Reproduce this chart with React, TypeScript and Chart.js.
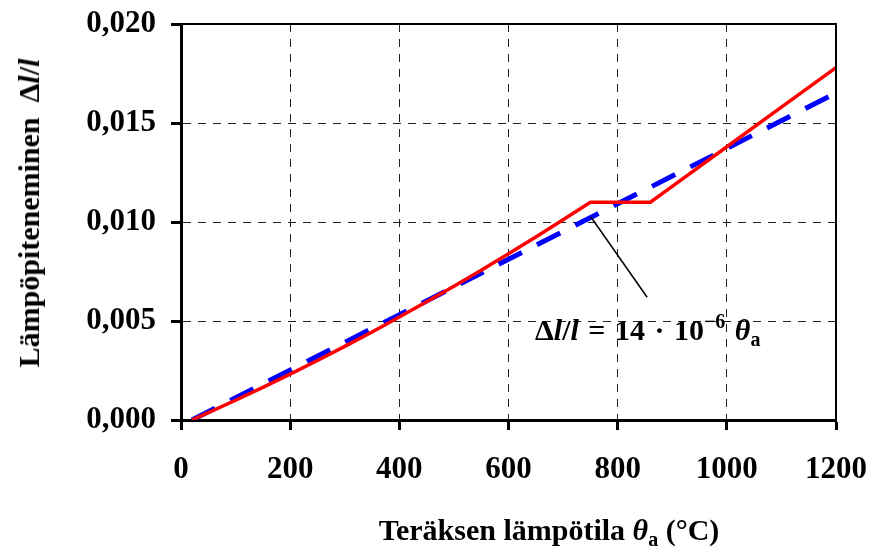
import React, { useEffect, useRef } from "react";
import { Chart, registerables } from "chart.js";

Chart.register(...registerables);

// Thermal elongation of steel: temperature (°C) and relative elongation Δl/l
const thetaSteel = [20, 50, 100, 150, 200, 250, 300, 350, 400, 450, 500, 550, 600, 650, 700, 750, 860, 900, 1000, 1100, 1200];
const strainSteel = [0.0, 0.000368, 0.000998, 0.001648, 0.002318, 0.003008, 0.003718, 0.004448, 0.005198, 0.005968, 0.006758, 0.007568, 0.008398, 0.009248, 0.010118, 0.011, 0.011, 0.0118, 0.0138, 0.0158, 0.0178];

// Simplified linear relation Δl/l = 14·10⁻⁶ θa
const thetaLinear = [20, 1200];
const strainLinear = [0.0, 0.01652];

// Axis tick labels
const xTickLabels = ["0", "200", "400", "600", "800", "1000", "1200"];
const yTickLabels = ["0,000", "0,005", "0,010", "0,015", "0,020"];

// Leader line from the linear curve to its formula label (data units)
const leaderFrom = [751, 0.01025];
const leaderTo = [854, 0.0062];

const FONT = "'Liberation Serif', 'Times New Roman', serif";

const framePlugin = {
  id: "frameAndLeader",
  afterDraw(chart: any) {
    const { ctx, chartArea, scales } = chart;
    ctx.save();
    // thin top and right frame lines
    ctx.strokeStyle = "#000";
    ctx.lineWidth = 2;
    ctx.setLineDash([]);
    ctx.beginPath();
    ctx.moveTo(chartArea.left, chartArea.top);
    ctx.lineTo(chartArea.right, chartArea.top);
    ctx.lineTo(chartArea.right, chartArea.bottom);
    ctx.stroke();
    // leader line for the formula label
    ctx.lineWidth = 1.5;
    ctx.beginPath();
    ctx.moveTo(scales.x.getPixelForValue(leaderFrom[0]), scales.y.getPixelForValue(leaderFrom[1]));
    ctx.lineTo(scales.x.getPixelForValue(leaderTo[0]), scales.y.getPixelForValue(leaderTo[1]));
    ctx.stroke();
    ctx.restore();
  },
};

// keep tick-label overflow from shrinking the plot area
const noOverflow = (s: any) => {
  s.paddingTop = 0;
  s.paddingBottom = 0;
  s.paddingLeft = 0;
  s.paddingRight = 0;
};

export default function App() {
  const canvasRef = useRef<HTMLCanvasElement | null>(null);

  useEffect(() => {
    document.body.style.margin = "0";
    const canvas = canvasRef.current;
    if (!canvas) return;
    const tickFont = { family: FONT, size: 31, weight: "bold" as const };
    const chart = new Chart(canvas, {
      type: "line",
      data: {
        datasets: [
          {
            label: "Eurocode",
            data: thetaSteel.map((t, i) => ({ x: t, y: strainSteel[i] })),
            borderColor: "#ff0000",
            borderWidth: 3.5,
            pointRadius: 0,
            tension: 0,
            fill: false,
          },
          {
            label: "Linear",
            data: thetaLinear.map((t, i) => ({ x: t, y: strainLinear[i] })),
            borderColor: "#0000ff",
            borderWidth: 5,
            borderDash: [26, 17],
            pointRadius: 0,
            tension: 0,
            fill: false,
          },
        ],
      },
      options: {
        responsive: false,
        animation: false,
        devicePixelRatio: 1,
        layout: { padding: { left: 0, top: 24, right: 35, bottom: 0 } },
        plugins: { legend: { display: false }, tooltip: { enabled: false } },
        scales: {
          x: {
            type: "linear",
            min: 0,
            max: 1200,
            afterFit: (s: any) => {
              s.height = 129;
              noOverflow(s);
            },
            ticks: {
              stepSize: 200,
              autoSkip: false,
              maxRotation: 0,
              padding: 21,
              color: "#000",
              font: tickFont,
              callback: (_v: any, i: number) => xTickLabels[i],
            },
            grid: {
              color: "#222",
              lineWidth: 1,
              tickLength: 10,
              tickColor: "#000",
              tickWidth: 3,
              tickBorderDash: [],
            } as any,
            border: { display: true, color: "#000", width: 3, dash: [8, 7] },
          },
          y: {
            type: "linear",
            min: 0,
            max: 0.02,
            afterFit: (s: any) => {
              s.width = 181;
              noOverflow(s);
            },
            ticks: {
              stepSize: 0.005,
              autoSkip: false,
              padding: 15,
              color: "#000",
              font: tickFont,
              callback: (_v: any, i: number) => yTickLabels[i],
            },
            grid: {
              color: "#222",
              lineWidth: 1,
              tickLength: 10,
              tickColor: "#000",
              tickWidth: 3,
              tickBorderDash: [],
            } as any,
            border: { display: true, color: "#000", width: 3, dash: [8, 7] },
          },
        },
      },
      plugins: [framePlugin],
    });
    return () => chart.destroy();
  }, []);

  const textBase: React.CSSProperties = {
    position: "absolute",
    fontFamily: FONT,
    fontWeight: "bold",
    fontSize: 30,
    lineHeight: 1,
    whiteSpace: "nowrap",
    color: "#000",
  };

  return (
    <div style={{ position: "relative", width: 871, height: 549, background: "#fff" }}>
      <canvas ref={canvasRef} width={871} height={549} style={{ display: "block" }} />
      {/* y-axis title */}
      <div
        style={{
          ...textBase,
          left: 29,
          top: 213,
          transform: "translate(-50%, -50%) rotate(-90deg)",
        }}
      >
        Lämpöpiteneminen&nbsp;&nbsp;Δ<i>l</i>/<i>l</i>
      </div>
      {/* x-axis title */}
      <div
        style={{
          ...textBase,
          left: 549,
          top: 515,
          transform: "translateX(-50%)",
        }}
      >
        Teräksen lämpötila <i>θ</i>
        <span style={{ fontSize: 20, position: "relative", top: 6 }}>a</span> (°C)
      </div>
      {/* formula label for the linear curve */}
      <div style={{ ...textBase, left: 535, top: 315, wordSpacing: 2 }}>
        Δ<i>l</i>/<i>l</i> = 14 · 10
        <span style={{ fontSize: 20, position: "relative", top: -12 }}>−6</span>
        &nbsp;<i>θ</i>
        <span style={{ fontSize: 20, position: "relative", top: 6 }}>a</span>
      </div>
    </div>
  );
}
